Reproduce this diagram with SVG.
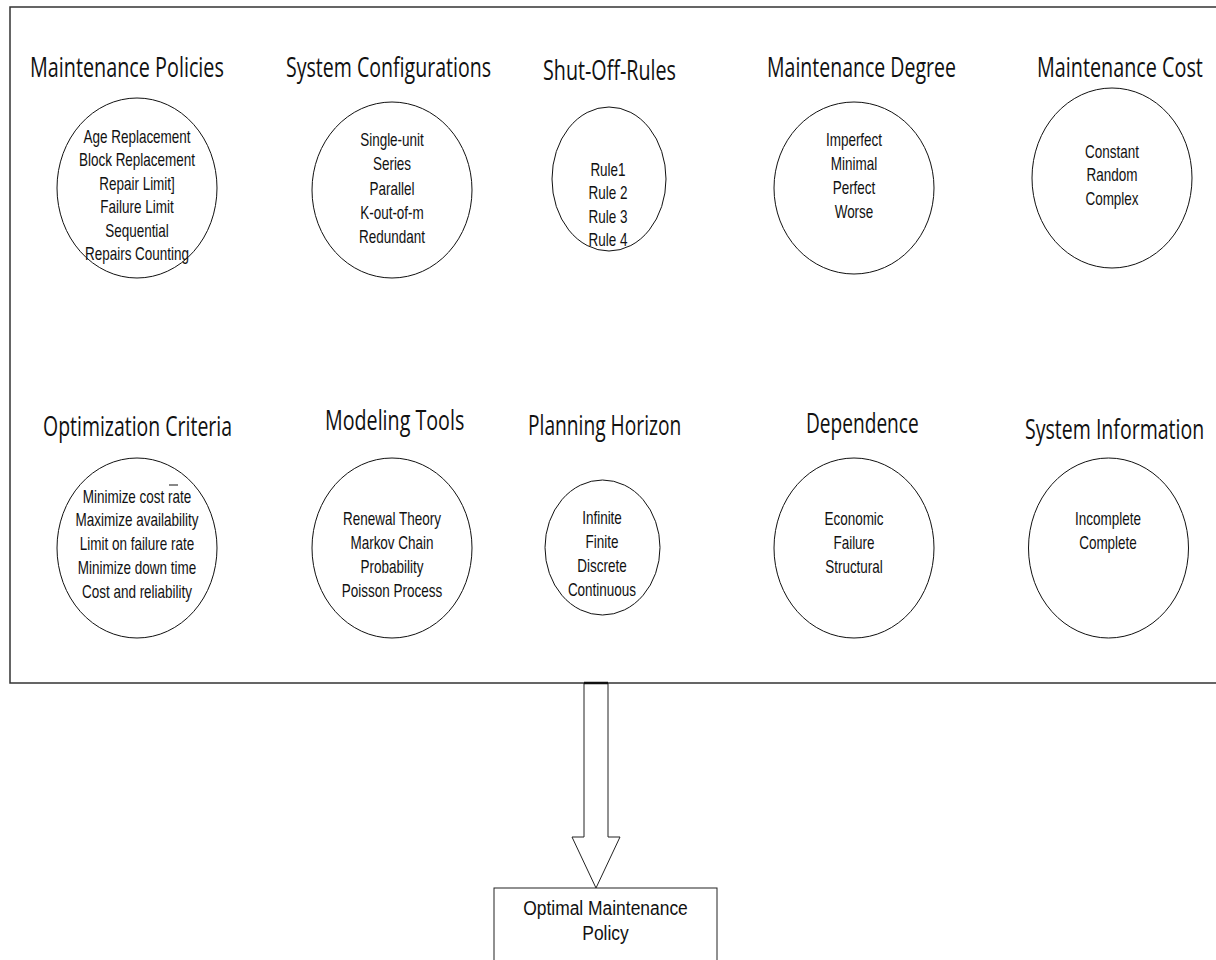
<svg xmlns="http://www.w3.org/2000/svg" width="1216" height="960" viewBox="0 0 1216 960">
<style>
.frame{fill:none;stroke:#333;stroke-width:1.5}
.c{fill:#fff;stroke:#111;stroke-width:1}
.t{font-family:"Open Sans","Noto Sans",sans-serif;font-size:28px;fill:#111}
.i{font-family:"Liberation Sans",Arial,sans-serif;font-size:18px;fill:#111;text-anchor:middle}
.b{font-family:"Liberation Sans",Arial,sans-serif;font-size:21px;fill:#111;text-anchor:middle}
.arr{fill:#fff;stroke:#222;stroke-width:1}
</style>
<rect x="10" y="7" width="1230" height="676" fill="#fff" class="frame"/>

<g id="maintenance-policies">
<g transform="translate(30,77) scale(0.7,1)"><text class="t" x="0" y="0" textLength="277" lengthAdjust="spacingAndGlyphs">Maintenance Policies</text></g>
<ellipse class="c" cx="137" cy="188" rx="80" ry="90"/>
<g transform="translate(137,0) scale(0.75,1)">
<text class="i" x="0" y="143">Age Replacement</text>
<text class="i" x="0" y="166.5">Block Replacement</text>
<text class="i" x="0" y="190">Repair Limit]</text>
<text class="i" x="0" y="213.5">Failure Limit</text>
<text class="i" x="0" y="237">Sequential</text>
<text class="i" x="0" y="260.5">Repairs Counting</text>
</g>
</g>

<g id="system-configurations">
<g transform="translate(286,77) scale(0.7,1)"><text class="t" x="0" y="0" textLength="293" lengthAdjust="spacingAndGlyphs">System Configurations</text></g>
<ellipse class="c" cx="392" cy="190" rx="80" ry="88"/>
<g transform="translate(392,0) scale(0.75,1)">
<text class="i" x="0" y="146">Single-unit</text>
<text class="i" x="0" y="170.5">Series</text>
<text class="i" x="0" y="195">Parallel</text>
<text class="i" x="0" y="219">K-out-of-m</text>
<text class="i" x="0" y="243">Redundant</text>
</g>
</g>

<g id="shut-off-rules">
<g transform="translate(543,80) scale(0.7,1)"><text class="t" x="0" y="0" textLength="190" lengthAdjust="spacingAndGlyphs">Shut-Off-Rules</text></g>
<ellipse class="c" cx="609" cy="179" rx="57" ry="72"/>
<g transform="translate(608,0) scale(0.75,1)">
<text class="i" x="0" y="176">Rule1</text>
<text class="i" x="0" y="199.5">Rule 2</text>
<text class="i" x="0" y="223">Rule 3</text>
<text class="i" x="0" y="246.5">Rule 4</text>
</g>
</g>

<g id="maintenance-degree">
<g transform="translate(767,77) scale(0.7,1)"><text class="t" x="0" y="0" textLength="270" lengthAdjust="spacingAndGlyphs">Maintenance Degree</text></g>
<ellipse class="c" cx="854" cy="188" rx="80" ry="86"/>
<g transform="translate(854,0) scale(0.75,1)">
<text class="i" x="0" y="146">Imperfect</text>
<text class="i" x="0" y="170">Minimal</text>
<text class="i" x="0" y="194">Perfect</text>
<text class="i" x="0" y="218">Worse</text>
</g>
</g>

<g id="maintenance-cost">
<g transform="translate(1037,77) scale(0.7,1)"><text class="t" x="0" y="0" textLength="237" lengthAdjust="spacingAndGlyphs">Maintenance Cost</text></g>
<ellipse class="c" cx="1112" cy="178" rx="80" ry="90"/>
<g transform="translate(1112,0) scale(0.75,1)">
<text class="i" x="0" y="158">Constant</text>
<text class="i" x="0" y="181.5">Random</text>
<text class="i" x="0" y="205">Complex</text>
</g>
</g>

<g id="optimization-criteria">
<g transform="translate(43,436) scale(0.7,1)"><text class="t" x="0" y="0" textLength="270" lengthAdjust="spacingAndGlyphs">Optimization Criteria</text></g>
<ellipse class="c" cx="137" cy="548" rx="80" ry="90"/>
<g transform="translate(137,0) scale(0.75,1)">
<text class="i" x="0" y="503">Minimize cost rate</text>
<text class="i" x="0" y="526.5">Maximize availability</text>
<text class="i" x="0" y="550">Limit on failure rate</text>
<text class="i" x="0" y="574">Minimize down time</text>
<text class="i" x="0" y="598">Cost and reliability</text>
</g>
<line x1="169" y1="485" x2="178" y2="485" stroke="#111" stroke-width="1"/>
</g>

<g id="modeling-tools">
<g transform="translate(325,430) scale(0.7,1)"><text class="t" x="0" y="0" textLength="199" lengthAdjust="spacingAndGlyphs">Modeling Tools</text></g>
<ellipse class="c" cx="392" cy="548" rx="80" ry="90"/>
<g transform="translate(392,0) scale(0.75,1)">
<text class="i" x="0" y="525">Renewal Theory</text>
<text class="i" x="0" y="549">Markov Chain</text>
<text class="i" x="0" y="573">Probability</text>
<text class="i" x="0" y="597">Poisson Process</text>
</g>
</g>

<g id="planning-horizon">
<g transform="translate(528,435) scale(0.7,1)"><text class="t" x="0" y="0" textLength="219" lengthAdjust="spacingAndGlyphs">Planning Horizon</text></g>
<ellipse class="c" cx="602.5" cy="547.5" rx="57.5" ry="67.5"/>
<g transform="translate(602,0) scale(0.75,1)">
<text class="i" x="0" y="524">Infinite</text>
<text class="i" x="0" y="548">Finite</text>
<text class="i" x="0" y="572">Discrete</text>
<text class="i" x="0" y="596">Continuous</text>
</g>
</g>

<g id="dependence">
<g transform="translate(806,433) scale(0.7,1)"><text class="t" x="0" y="0" textLength="161" lengthAdjust="spacingAndGlyphs">Dependence</text></g>
<ellipse class="c" cx="854" cy="548" rx="80" ry="90"/>
<g transform="translate(854,0) scale(0.75,1)">
<text class="i" x="0" y="525">Economic</text>
<text class="i" x="0" y="549">Failure</text>
<text class="i" x="0" y="573">Structural</text>
</g>
</g>

<g id="system-information">
<g transform="translate(1025,439) scale(0.7,1)"><text class="t" x="0" y="0" textLength="256" lengthAdjust="spacingAndGlyphs">System Information</text></g>
<ellipse class="c" cx="1108.5" cy="548" rx="80" ry="90"/>
<g transform="translate(1108,0) scale(0.75,1)">
<text class="i" x="0" y="525">Incomplete</text>
<text class="i" x="0" y="549">Complete</text>
</g>
</g>

<g id="connectors">
<polygon class="arr" points="584,683 608,683 608,837 620,837 596,888 572,837 584,837"/>
<line x1="584" y1="683" x2="608" y2="683" stroke="#111" stroke-width="2.5"/>
</g>

<g id="optimal-maintenance-policy">
<rect x="494" y="888" width="223" height="90" fill="#fff" stroke="#222" stroke-width="1"/>
<g transform="translate(605.5,0) scale(0.83,1)">
<text class="b" x="0" y="915">Optimal Maintenance</text>
<text class="b" x="0" y="940">Policy</text>
</g>
</g>
</svg>
